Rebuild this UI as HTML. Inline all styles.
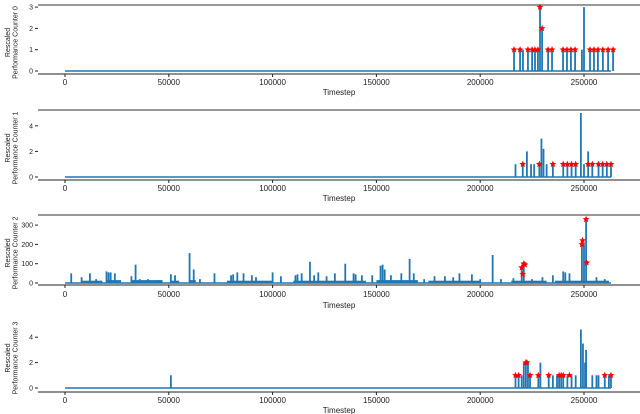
<!DOCTYPE html>
<html><head><meta charset="utf-8"><style>
html,body{margin:0;padding:0;background:#fff;width:640px;height:414px;overflow:hidden}
svg text{font-family:"Liberation Sans","DejaVu Sans",sans-serif;fill:#222}
</style></head><body>
<svg id="chart" width="640" height="414"></svg>
<script>
// ---- data ----
const xTicks = [0, 50000, 100000, 150000, 200000, 250000];
const xTickLabels = ["0", "50000", "100000", "150000", "200000", "250000"];
const seriesEnd = 263000;

const p0Times = [216300,219200,220600,223000,225000,226400,227800,228800,229800,232700,234600,239900,241800,243700,245700,249000,250000,252900,254800,256700,259100,261600,264000];
const p0Vals  = [1,1,1,1,1,1,1,3,2,1,1,1,1,1,1,1,3,1,1,1,1,1,1];
const p0StarT = [216300,219200,223000,225000,226400,227800,228800,229800,232700,234600,239900,241800,243700,245700,252900,254800,256700,259100,261600,264000];
const p0StarV = [1,1,1,1,1,1,3,2,1,1,1,1,1,1,1,1,1,1,1,1];
const p0Ticks = [0,1,2,3];

const p1Times = [217000,220500,222500,224500,226000,228500,229500,230500,232000,235000,240000,242000,244000,246000,248500,250000,252000,254000,257000,259000,261000,263000];
const p1Vals  = [1,1,2,1,1,1,3,2.2,1,1,1,1,1,1,5,1,2,1,1,1,1,1];
const p1StarT = [220500,228500,235000,240000,242000,244000,246000,252000,254000,257000,259000,261000,263000];
const p1StarV = [1,1,1,1,1,1,1,1,1,1,1,1,1];
const p1Ticks = [0,2,4];

const p2Times = [3000,8000,12000,15000,20000,21000,22000,24000,32000,34000,36000,40000,45000,51000,53000,60000,62000,65000,72000,80000,81000,83000,86000,90000,92000,100000,104000,111000,112000,114000,118000,120000,122000,126000,130000,135000,139000,140000,143000,148000,152000,153000,154000,157000,162000,166000,168000,173000,178000,183000,187000,190000,196000,200000,206000,210000,216000,220000,221000,225000,230000,235000,240000,241000,243000,249000,250000,251000,256000,260000];
const p2Vals  = [50,30,50,20,60,55,55,50,35,95,20,20,15,45,40,155,70,20,50,40,45,55,50,40,30,55,35,40,45,50,110,40,55,35,50,100,50,45,40,40,90,95,70,40,50,125,50,20,35,35,30,50,45,20,145,20,25,80,100,20,30,40,60,55,50,220,200,330,30,20];
const p2BaseStart = [8000,20000,32000,51000,60000,78000,110000,150000,175000,215000,236000];
const p2BaseEnd   = [18000,27000,47000,55000,63000,100000,145000,170000,200000,232000,262000];
const p2BaseLevel = [12,15,15,12,15,12,12,15,12,12,12];
const p2StarT = [220000,220500,221000,221500,249000,249300,251000,251300];
const p2StarV = [80,45,100,95,200,220,330,105];
const p2Ticks = [0,100,200,300];

const p3Times = [51000,217000,218500,220000,221000,222000,223000,224000,228000,229000,233000,235000,237000,238000,239000,240000,242000,244000,246000,248500,249500,250500,251000,254000,256000,257000,260000,262000,263000];
const p3Vals  = [1,1,1,1,2,2,2,1,1,2,1,1,1,1,1,1,1,1,1,4.6,3.5,2,3,1,1,1,1,1,1];
const p3StarT = [217000,218500,222000,222500,224000,228000,233000,238000,239000,240000,243000,260000,263000];
const p3StarV = [1,1,2,2,1,1,1,1,1,1,1,1,1];
const p3Ticks = [0,2,4];

// ---- layout ----
const svg = document.getElementById('chart');
const NS = 'http://www.w3.org/2000/svg';
const X0 = 65, XS = (584 - 65) / 250000;
const xS = t => X0 + t * XS;
function el(tag, attrs, parent) {
  const e = document.createElementNS(NS, tag);
  for (const k in attrs) e.setAttribute(k, attrs[k]);
  (parent || svg).appendChild(e);
  return e;
}
function starPts(cx, cy, r) {
  const pts = [];
  for (let k = 0; k < 10; k++) {
    const a = -Math.PI / 2 + k * Math.PI / 5;
    const rr = k % 2 ? r * 0.45 : r;
    pts.push((cx + rr * Math.cos(a)).toFixed(1) + ',' + (cy + rr * Math.sin(a)).toFixed(1));
  }
  return pts.join(' ');
}
const panels = [
  {name:'counter-0', label:'Performance Counter 0', top:5, axisY:74, zeroY:71, unitPx:21.3, ticks:p0Ticks, times:p0Times, vals:p0Vals, st:p0StarT, sv:p0StarV, tickY:85, titleY:95, topLine:true},
  {name:'counter-1', label:'Performance Counter 1', top:110, axisY:180, zeroY:177, unitPx:12.8, ticks:p1Ticks, times:p1Times, vals:p1Vals, st:p1StarT, sv:p1StarV, tickY:191, titleY:201, topLine:true},
  {name:'counter-2', label:'Performance Counter 2', top:215, axisY:285, zeroY:283, unitPx:0.193, ticks:p2Ticks, times:p2Times, vals:p2Vals, st:p2StarT, sv:p2StarV, tickY:297, titleY:308, topLine:true, base:true},
  {name:'counter-3', label:'Performance Counter 3', top:318, axisY:392, zeroY:388, unitPx:12.7, ticks:p3Ticks, times:p3Times, vals:p3Vals, st:p3StarT, sv:p3StarV, tickY:403, titleY:413, topLine:false}
];
panels.forEach((p, i) => {
  const g = el('g', {});
  
  
  const yS = v => p.zeroY - v * p.unitPx;
  if (p.topLine) {
    const tl = el('line', {x1:38, x2:640, y1:p.top, y2:p.top, stroke:'#777', 'stroke-width':1.5}, g);
    
    
  }
  const bl = el('line', {x1:xS(0), x2:xS(seriesEnd), y1:p.zeroY, y2:p.zeroY, stroke:'#1f77b4', 'stroke-width':1.5}, g);
  
  
  if (p.base) {
    p2BaseStart.forEach((s, j) => {
      const r = el('rect', {x:xS(s), y:yS(p2BaseLevel[j]), width:xS(p2BaseEnd[j]) - xS(s), height:yS(0) - yS(p2BaseLevel[j]), fill:'#1f77b4'}, g);
      
      
    });
  }
  p.times.forEach((t, j) => {
    const b = el('line', {x1:xS(t), x2:xS(t), y1:yS(0), y2:yS(p.vals[j]), stroke:'#1f77b4', 'stroke-width':1.8}, g);
    
    
  });
  p.st.forEach((t, j) => {
    const s = el('polygon', {points:starPts(xS(t), yS(p.sv[j]), 3.6), fill:'#ff0000'}, g);
    
    
  });
  const ax = el('line', {x1:38, x2:640, y1:p.axisY, y2:p.axisY, stroke:'#222', 'stroke-width':1}, g);
  
  
  xTicks.forEach((t, j) => {
    const tk = el('line', {x1:xS(t), x2:xS(t), y1:p.axisY, y2:p.axisY + 3, stroke:'#222'}, g);
    
    
    const lb = el('text', {x:xS(t), y:p.tickY, 'font-size':8, 'text-anchor':'middle'}, g);
    lb.textContent = xTickLabels[j];
    
    
  });
  const xt = el('text', {x:339, y:p.titleY, 'font-size':8, 'text-anchor':'middle'}, g);
  xt.textContent = 'Timestep';
  
  
  p.ticks.forEach(v => {
    const tk = el('line', {x1:35, x2:38, y1:yS(v), y2:yS(v), stroke:'#222'}, g);
    
    
    const lb = el('text', {x:33, y:yS(v) + 2.5, 'font-size':7, 'text-anchor':'end'}, g);
    lb.textContent = String(v);
    
    
  });
  const cy = (p.top + p.axisY) / 2 + 3;
  const yt = el('text', {transform:`translate(10,${cy}) rotate(-90)`, 'font-size':7, 'text-anchor':'middle'}, g);
  
  
  const t1 = el('tspan', {x:0, dy:0}, yt); t1.textContent = 'Rescaled';
  const t2 = el('tspan', {x:0, dy:7.5}, yt); t2.textContent = p.label;
});
</script>
</body></html>
